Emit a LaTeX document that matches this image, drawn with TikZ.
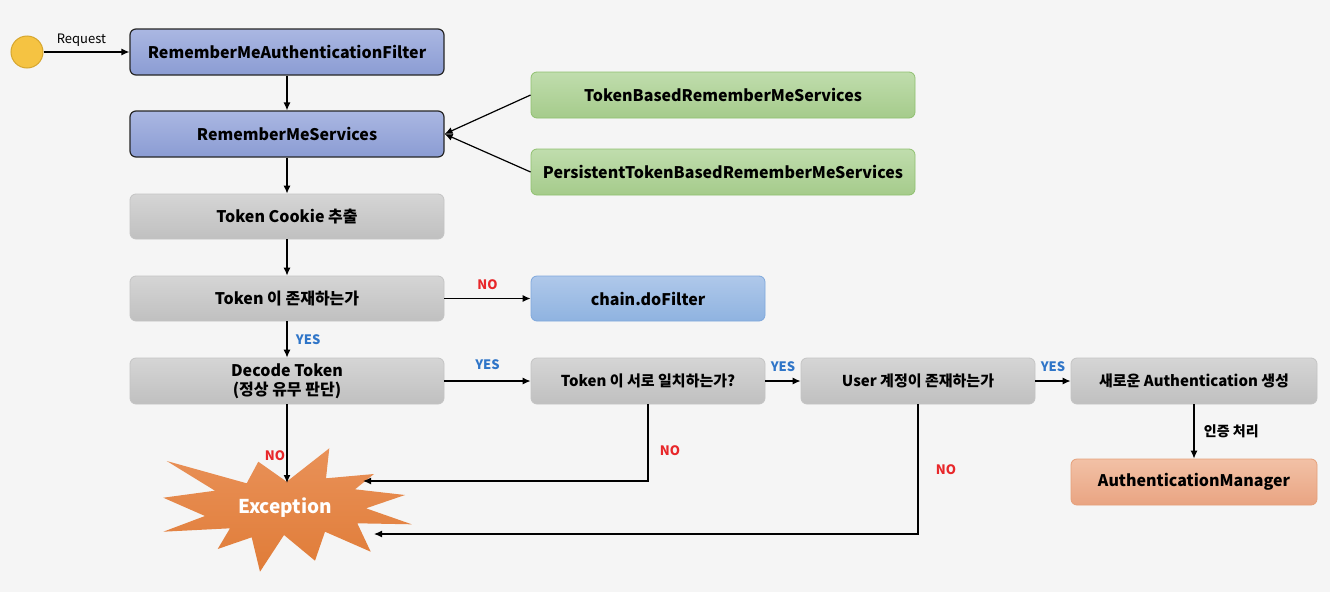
\documentclass[tikz,border=0pt]{standalone}
\usepackage{fontspec}
\setmainfont{Noto Sans CJK KR}
\usetikzlibrary{arrows.meta}
\definecolor{bgc}{HTML}{F5F5F5}
\definecolor{bluet}{HTML}{AAB7E2}
\definecolor{blueb}{HTML}{8B9CD3}
\definecolor{greent}{HTML}{C0DDAD}
\definecolor{greenb}{HTML}{A5CB8B}
\definecolor{greend}{HTML}{8FC06F}
\definecolor{grayt}{HTML}{D5D5D5}
\definecolor{grayb}{HTML}{C0C0C0}
\definecolor{grayd}{HTML}{C4C4C4}
\definecolor{chaint}{HTML}{AFC8EA}
\definecolor{chainb}{HTML}{8FB3E0}
\definecolor{chaind}{HTML}{7FA8DC}
\definecolor{oranget}{HTML}{F2C1A6}
\definecolor{orangeb}{HTML}{E9A482}
\definecolor{oranged}{HTML}{E5A07A}
\definecolor{exct}{HTML}{E99158}
\definecolor{excb}{HTML}{E07C38}
\definecolor{nored}{HTML}{E8272A}
\definecolor{yesblue}{HTML}{2F75C8}
\definecolor{circf}{HTML}{F5C342}
\definecolor{circd}{HTML}{D6A62E}
\tikzset{
  box/.style={rounded corners=6pt, align=center, font=\fontsize{16}{19}\selectfont\bfseries, inner sep=0pt},
  bluebox/.style={box, top color=bluet, bottom color=blueb, draw=black!85, line width=1.2pt},
  greenbox/.style={box, top color=greent, bottom color=greenb, draw=greend, line width=0.8pt},
  graybox/.style={box, top color=grayt, bottom color=grayb, draw=grayd, line width=0.8pt},
  chainbox/.style={box, top color=chaint, bottom color=chainb, draw=chaind, line width=0.8pt},
  orangebox/.style={box, top color=oranget, bottom color=orangeb, draw=oranged, line width=0.8pt},
  conn/.style={draw=black, line width=1.2pt, -{Latex[length=8pt,width=7pt]}},
  nolab/.style={text=nored, font=\fontsize{13}{15}\selectfont\bfseries},
  yeslab/.style={text=yesblue, font=\fontsize{13}{15}\selectfont\bfseries},
}
\begin{document}
\begin{tikzpicture}[x=1pt,y=-1pt]
\fill[bgc] (0,0) rectangle (1330,592);
\useasboundingbox (0,0) rectangle (1330,592);

\node[circle, minimum size=32pt, fill=circf, draw=circd, line width=1pt, inner sep=0pt] (start) at (27,52) {};

\node[bluebox, minimum width=314pt, minimum height=46pt] (filter) at (287,52) {RememberMeAuthenticationFilter};
\node[bluebox, minimum width=314pt, minimum height=46pt] (services) at (287,134) {RememberMeServices};
\node[greenbox, minimum width=384pt, minimum height=46pt] (tbr) at (723,95) {TokenBasedRememberMeServices};
\node[greenbox, minimum width=384pt, minimum height=46pt] (ptbr) at (723,172) {PersistentTokenBasedRememberMeServices};
\node[graybox, minimum width=314pt, minimum height=45pt] (cookie) at (287,216.5) {Token Cookie 추출};
\node[graybox, minimum width=314pt, minimum height=45pt] (exists) at (287,298.5) {Token 이 존재하는가};
\node[chainbox, minimum width=234pt, minimum height=45pt] (chain) at (648,298.5) {chain.doFilter};
\node[graybox, minimum width=314pt, minimum height=46pt] (decode) at (287,381) {Decode Token\\(정상 유무 판단)};
\node[graybox, minimum width=234pt, minimum height=46pt, font=\fontsize{15}{18}\selectfont\bfseries] (match) at (648,381) {Token 이 서로 일치하는가?};
\node[graybox, minimum width=234pt, minimum height=46pt, font=\fontsize{15}{18}\selectfont\bfseries] (user) at (918,381) {User 계정이 존재하는가};
\node[graybox, minimum width=246pt, minimum height=46pt, font=\fontsize{15}{18}\selectfont\bfseries] (newauth) at (1194,381) {새로운 Authentication 생성};
\node[orangebox, minimum width=246pt, minimum height=46pt] (manager) at (1194,482) {AuthenticationManager};

% Exception starburst
\shade[top color=exct, bottom color=excb]
 (166.7,461) -- (246.7,483.3) -- (258.3,461.7) -- (286.7,481.7) -- (329.3,448.3) -- (326,478.3)
 -- (374,474) -- (355,489.3) -- (405,495) -- (366,508.3) -- (411.7,524.3) -- (357.3,523.3)
 -- (370.7,551.7) -- (325,531.7) -- (315,560.7) -- (284,535) -- (260,571.7) -- (251.7,537.3)
 -- (217.7,549) -- (230,528.3) -- (163.3,531.7) -- (205,516) -- (163.3,497.7) -- (215,490.7) -- cycle;
\node[text=white, font=\fontsize{19}{21}\selectfont\bfseries] (exc) at (285,508) {Exception};
\coordinate (excTop) at (287,483);
\coordinate (excR1) at (363,481);
\coordinate (excR2) at (374,534);

% connectors
\draw[conn] (start) -- (filter.west) node[midway, above=2pt, font=\fontsize{13}{15}\selectfont, xshift=-5pt] {Request};
\draw[conn] (filter) -- (services);
\draw[conn] (tbr.west) -- (services.east);
\draw[conn] (ptbr.west) -- (services.east);
\draw[conn] (services) -- (cookie);
\draw[conn] (cookie) -- (exists);
\draw[conn] (exists) -- (chain) node[midway, above=5pt, nolab] {NO};
\draw[conn] (exists) -- (decode) node[midway, right=5pt, yeslab] {YES};
\draw[conn] (decode) -- (match) node[midway, above=7pt, yeslab] {YES};
\draw[conn] (match) -- (user) node[midway, above=5pt, yeslab] {YES};
\draw[conn] (user) -- (newauth) node[midway, above=5pt, yeslab] {YES};
\draw[conn] (newauth) -- (manager) node[midway, right=6pt, font=\fontsize{14}{16}\selectfont\bfseries] {인증 처리};
\draw[conn] (decode.south) -- (excTop) node[pos=0.65, left=-2pt, nolab] {NO};
\draw[conn] (match.south) |- (excR1) node[pos=0.3, right=8pt, nolab] {NO};
\draw[conn] (user.south) |- (excR2) node[pos=0.25, right=14pt, nolab] {NO};
\end{tikzpicture}
\end{document}
